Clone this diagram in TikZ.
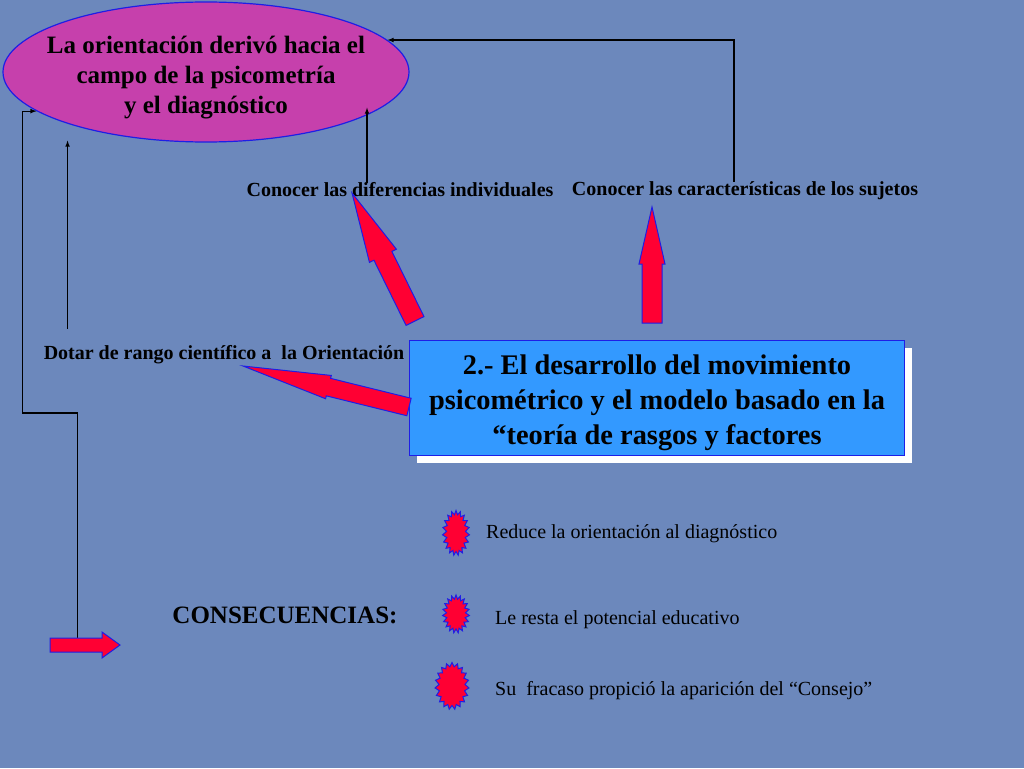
\documentclass[tikz,border=0pt]{standalone}
\usepackage{fontspec}
\setmainfont{Liberation Serif}
\usetikzlibrary{calc}
\usetikzlibrary{shapes.geometric}
\usetikzlibrary{shapes.symbols}
\usetikzlibrary{shadows}

\definecolor{agua}{RGB}{108,136,188}
\definecolor{psicomag}{RGB}{198,64,172}
\definecolor{cajaazul}{RGB}{51,153,255}
\definecolor{rojo}{RGB}{255,0,51}
\definecolor{borde}{RGB}{30,30,230}

% flecha gruesa: origen, destino, medio ancho, medio ancho punta, largo punta
\newcommand{\flechagorda}[5]{%
  \coordinate (fh) at ($(#2)!#5!(#1)$);
  \draw[bloque] ($(#1)!#3!90:(#2)$) -- ($(fh)!#3!-90:(#1)$) -- ($(fh)!#4!-90:(#1)$) -- (#2)
    -- ($(fh)!#4!90:(#1)$) -- ($(fh)!#3!90:(#1)$) -- ($(#1)!#3!-90:(#2)$) -- cycle;
}

\begin{document}
\begin{tikzpicture}[x=1pt,y=-1pt,>=latex,
    link/.style={->,black,line width=1.1pt},
    bloque/.style={fill=rojo,draw=borde,line width=1pt},
    etiqueta/.style={inner sep=0pt,font=\bfseries\fontsize{20}{23}\selectfont},
    consec/.style={inner sep=0pt,anchor=west,font=\fontsize{20}{23}\selectfont},
    estrella/.style={starburst,starburst points=19,starburst point height=4pt,
      random starburst=0,fill=rojo,draw=borde,line width=1pt,inner sep=0pt}]
  \useasboundingbox (0,0) rectangle (1024,768);
  \fill[agua] (0,0) rectangle (1024,768);

  % nodo principal y elipse
  \node[ellipse,fill=psicomag,draw=borde,line width=1.2pt,minimum width=406pt,
    minimum height=140pt,inner xsep=-22pt,inner ysep=0pt,align=center,
    font=\bfseries\fontsize{25}{30}\selectfont] (psico) at (206,72)
    {\rule{0pt}{28pt}La orientación derivó hacia el\\campo de la psicometría\\y el diagnóstico};
  \node[rectangle,fill=cajaazul,draw=borde,line width=1pt,minimum width=495pt,
    minimum height=115pt,align=center,font=\bfseries\fontsize{28.4}{35}\selectfont,
    drop shadow={fill=white,opacity=1,shadow xshift=7pt,shadow yshift=-7pt}] (movim) at (657,398)
    {\rule{0pt}{30pt}2.- El desarrollo del movimiento\\psicométrico y el modelo basado en la\\“teoría de rasgos y factores};

  % etiquetas
  \node[etiqueta] (difer) at (400,190) {Conocer las diferencias individuales};
  \node[etiqueta] (caract) at (745,191) {Conocer las características de los sujetos};
  \node[etiqueta] (dotar) at (224,355) {Dotar de rango científico a~ la Orientación};
  \node[inner sep=0pt,font=\bfseries\fontsize{25}{28}\selectfont] (conse) at (285,615) {CONSECUENCIAS:};

  % conectores finos
  \draw[link] ([xshift=-33pt]difer.north) -- ++(0,-75);
  \draw[link] ([xshift=-11pt]caract.north) |- (psico.10);
  \draw[link] ($(dotar.north west)+(24,-17)$) -- ++(0,-188);

  % flechas rojas
  \coordinate (ctail) at (415,321);
  \coordinate (ctip) at (352,193);
  \coordinate (vtail) at (652,323);
  \coordinate (vtip) at (652,207);
  \coordinate (ltail) at (409,407);
  \coordinate (ltip) at (243,366);
  \coordinate (ftail) at (50,645);
  \coordinate (ftip) at (120,645);
  \draw[link] ($(ftail)!.39!(ftip)$) |- ++(-55,-232) |- (psico.193);
  \flechagorda{ctail}{ctip}{10pt}{15pt}{70pt}
  \flechagorda{vtail}{vtip}{10pt}{13pt}{57pt}
  \flechagorda{ltail}{ltip}{9pt}{12pt}{88pt}
  \flechagorda{ftail}{ftip}{7pt}{13pt}{18pt}

  % consecuencias
  \node[estrella,minimum width=27pt,minimum height=45pt] (s1) at (456,533) {};
  \node[estrella,minimum width=27pt,minimum height=38pt] (s2) at (456,614) {};
  \node[estrella,minimum width=34pt,minimum height=47pt] (s3) at (452,686) {};
  \node[consec] (t1) at (486,534) {Reduce la orientación al diagnóstico};
  \node[consec] (t2) at (495,620) {Le resta el potencial educativo};
  \node[consec] (t3) at (495,691) {Su~ fracaso propició la aparición del “Consejo”};
\end{tikzpicture}
\end{document}
